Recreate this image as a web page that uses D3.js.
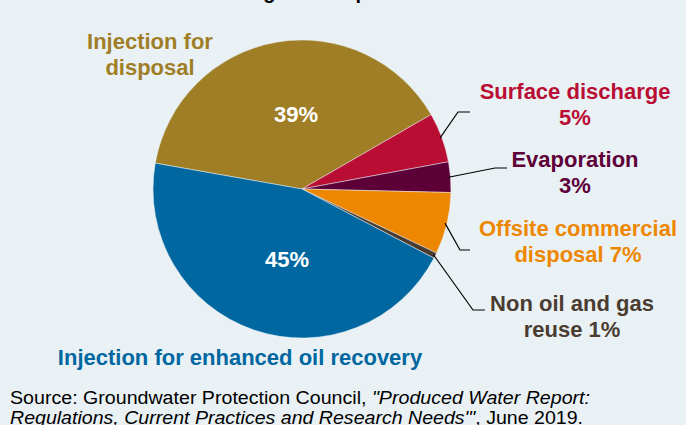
<!DOCTYPE html>
<html>
<head>
<meta charset="utf-8">
<script src="https://cdn.jsdelivr.net/npm/d3@7"></script>
<style>
  body { margin: 0; background: #e9f1f5; }
  svg { display: block; font-family: "Liberation Sans", Arial, sans-serif; }
</style>
</head>
<body>
<div id="chart"></div>
<script>
// shares of produced water by management practice
const categories = ['Injection for disposal', 'Surface discharge', 'Evaporation',
    'Offsite commercial disposal', 'Non oil and gas reuse', 'Injection for enhanced oil recovery'];
const values = [38.9, 5.4, 3.3, 6.7, 0.6, 45.1];
// label text, '|' breaks a line, {p} is the rounded percentage
const labelText = ['Injection for|disposal', 'Surface discharge|{p}', 'Evaporation|{p}',
    'Offsite commercial|disposal {p}', 'Non oil and gas|reuse {p}', 'Injection for enhanced oil recovery'];
const insidePct = [true, false, false, false, false, true];

const colors = ['#a07e26', '#b90d33', '#5e0038', '#ee8700', '#4b3b2f', '#0067a1'];
const textColors = ['#a07e26', '#b90d33', '#5e0038', '#ee8700', '#4a3c31', '#0067a1'];

// where each outside label sits, and the elbow of its leader line
const layout = [
    {x: 150, y: 49, px: 296, py: 122},
    {x: 575, y: 99, elbow: [458, 112], end: 470},
    {x: 575, y: 167, elbow: [495, 168], end: 507},
    {x: 578, y: 236, elbow: [460, 250], end: 470},
    {x: 572, y: 311, elbow: [473, 310], end: 485},
    {x: 240, y: 365, px: 287, py: 267}
];

const width = 686, height = 425;
const cx = 302, cy = 189, radius = 149;
const lineH = 25.5;

const svg = d3.select('#chart').append('svg')
    .attr('width', width)
    .attr('height', height);

svg.append('rect')
    .attr('width', width)
    .attr('height', height)
    .attr('fill', '#e9f1f5');

// title, mostly cut off at the top edge
svg.append('text')
    .attr('x', 54)
    .attr('y', -1)
    .attr('font-size', 20)
    .attr('font-weight', 'bold')
    .attr('fill', '#000')
    .text('Produced Water Management Options');

const data = categories.map((c, i) => ({name: c, value: values[i], i: i}));

const pie = d3.pie()
    .sort(null)
    .value(d => d.value)
    .startAngle(-80 * Math.PI / 180)
    .endAngle(280 * Math.PI / 180);

const arc = d3.arc().innerRadius(0).outerRadius(radius);

const arcs = pie(data);

const chart = svg.append('g')
    .attr('transform', `translate(${cx},${cy})`);

chart.selectAll('path')
    .data(arcs)
    .join('path')
    .attr('d', arc)
    .attr('fill', d => colors[d.data.i])
    .attr('stroke', '#e9f1f5')
    .attr('stroke-width', 0.5);

const pct = d => `${Math.round(d.value)}%`;

// leader lines for the small slices
const leaders = arcs.filter(d => layout[d.data.i].elbow);
svg.append('g').selectAll('polyline')
    .data(leaders)
    .join('polyline')
    .attr('fill', 'none')
    .attr('stroke', '#000')
    .attr('stroke-width', 1.2)
    .attr('points', d => {
        const a = (d.startAngle + d.endAngle) / 2;
        const L = layout[d.data.i];
        const sx = cx + (radius - 2) * Math.sin(a);
        const sy = cy - (radius - 2) * Math.cos(a);
        return `${sx},${sy} ${L.elbow[0]},${L.elbow[1]} ${L.end},${L.elbow[1]}`;
    });

// category labels
const labels = svg.append('g').selectAll('text')
    .data(arcs)
    .join('text')
    .attr('text-anchor', 'middle')
    .attr('font-size', 22)
    .attr('font-weight', 'bold')
    .attr('fill', d => textColors[d.data.i]);

labels.each(function (d) {
    const L = layout[d.data.i];
    const lines = labelText[d.data.i].replace('{p}', pct(d.data)).split('|');
    d3.select(this).selectAll('tspan')
        .data(lines)
        .join('tspan')
        .attr('x', L.x)
        .attr('y', (t, k) => L.y + k * lineH)
        .text(t => t);
});

// percentages inside the two big slices
svg.append('g').selectAll('text')
    .data(arcs.filter(d => insidePct[d.data.i]))
    .join('text')
    .attr('x', d => layout[d.data.i].px)
    .attr('y', d => layout[d.data.i].py)
    .attr('text-anchor', 'middle')
    .attr('font-size', 22)
    .attr('font-weight', 'bold')
    .attr('fill', '#fff')
    .text(d => pct(d.data));

// source note
const src1 = svg.append('text')
    .attr('x', 10)
    .attr('y', 404)
    .attr('font-size', 18)
    .attr('fill', '#000')
    .attr('textLength', 580)
    .attr('lengthAdjust', 'spacingAndGlyphs');
src1.append('tspan').text('Source: Groundwater Protection Council, ');
src1.append('tspan').attr('font-style', 'italic').text('"Produced Water Report:');

const src2 = svg.append('text')
    .attr('x', 10)
    .attr('y', 424)
    .attr('font-size', 18)
    .attr('fill', '#000')
    .attr('textLength', 573)
    .attr('lengthAdjust', 'spacingAndGlyphs');
src2.append('tspan').attr('font-style', 'italic').text('Regulations, Current Practices and Research Needs\'"');
src2.append('tspan').text(', June 2019.');
</script>
</body>
</html>
